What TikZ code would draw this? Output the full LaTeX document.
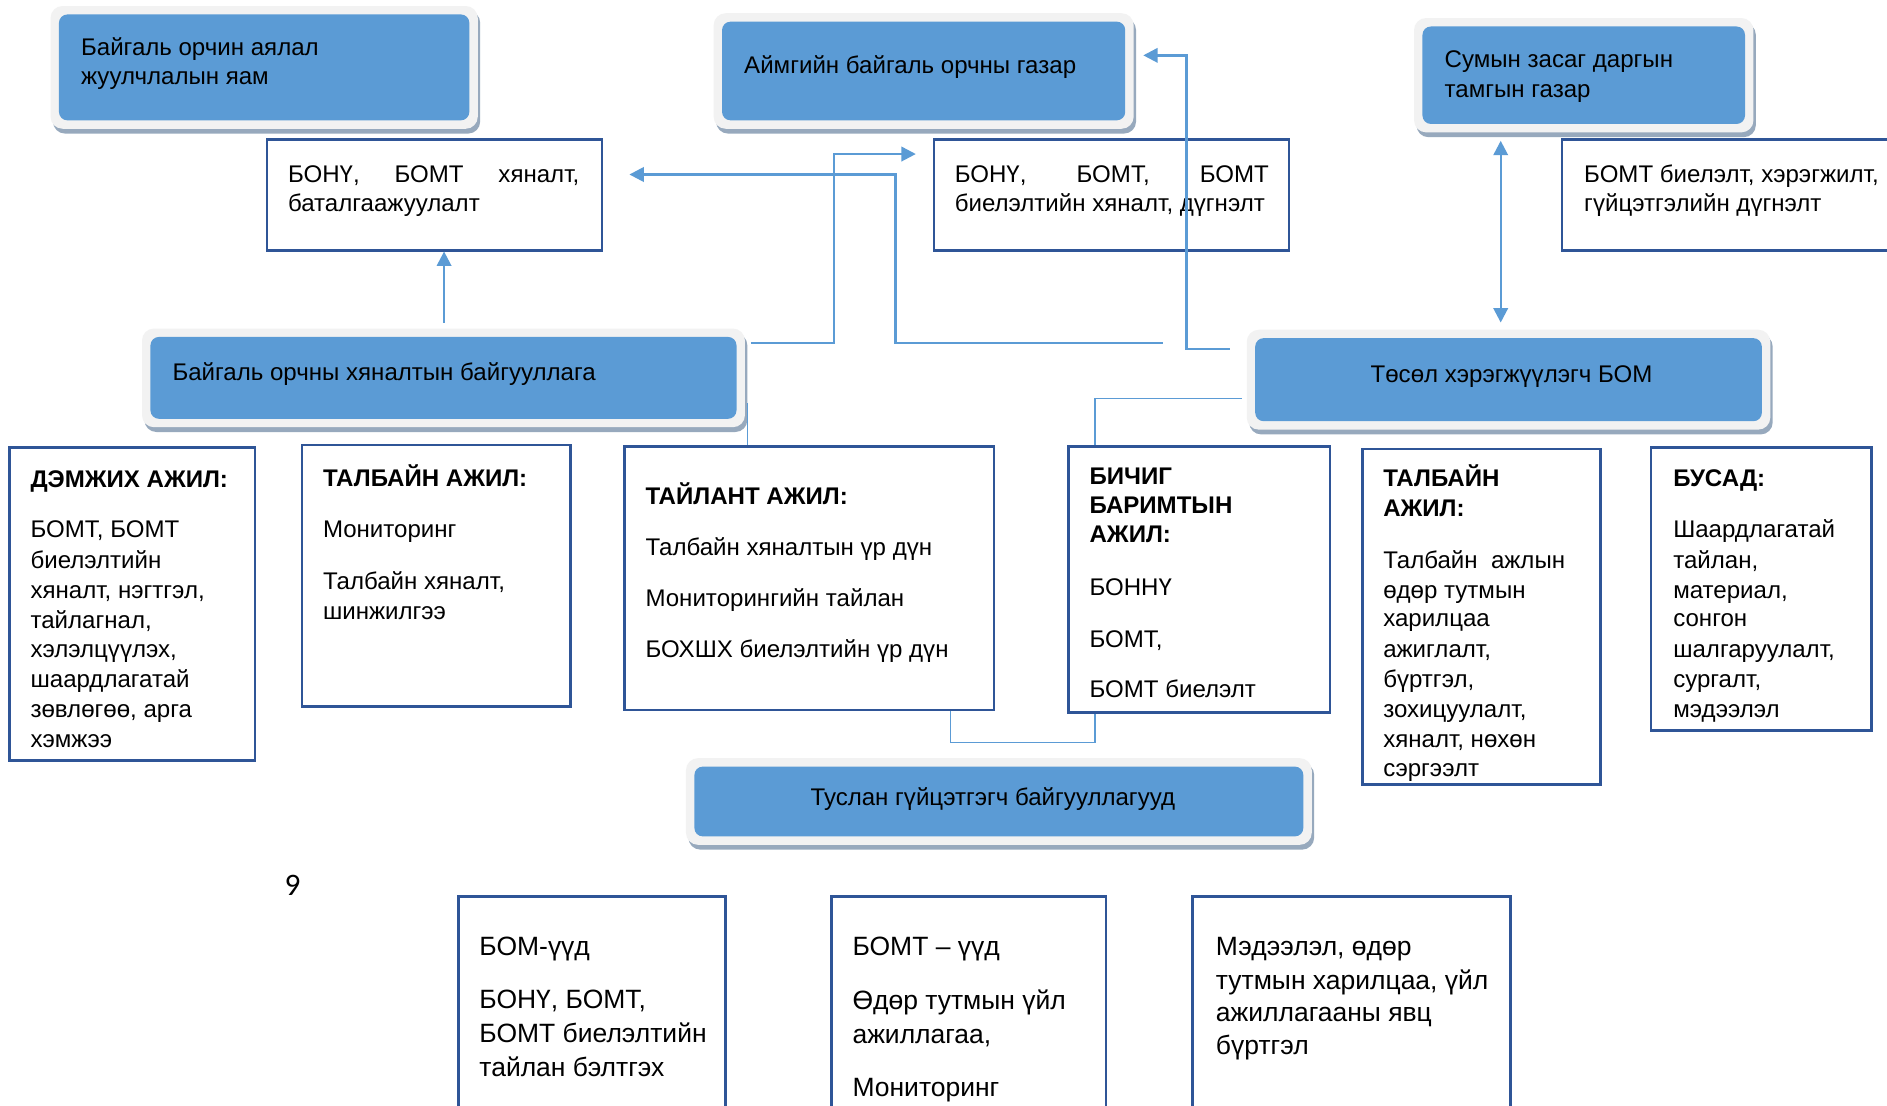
\documentclass[tikz,border=0pt]{standalone}
\usepackage{fontspec}
\setmainfont{Liberation Sans}
\newfontfamily\pagefont{Carlito}
\usetikzlibrary{arrows.meta,fit,calc}
\definecolor{blueA}{HTML}{5B9BD5}
\definecolor{frameC}{HTML}{F2F2F2}
\definecolor{shadowC}{HTML}{97A9BD}
\definecolor{navy}{HTML}{2F5597}
\definecolor{connC}{HTML}{5B9BD5}
\newcommand\bluebox[5]{%
  \fill[shadowC, rounded corners=5pt] (#2-7+2,#3-7+4) rectangle (#4+7+2,#5+7+4);
  \fill[frameC, rounded corners=5pt] (#2-7,#3-7) rectangle (#4+7,#5+7);
  \node[bluenode, fit={(#2,#3) (#4,#5)}] (#1) {};}
\tikzset{
  bluenode/.style={fill=blueA, draw=none, rounded corners=3.5pt, inner sep=0pt},
  wbox/.style={draw=navy, line width=1pt, fill=white, inner sep=0pt},
  txt/.style={anchor=base west, inner sep=0pt, font=\fontsize{10pt}{12pt}\selectfont, yshift=-3.5pt},
  txtc/.style={anchor=base, inner sep=0pt, font=\fontsize{10pt}{12pt}\selectfont, yshift=-3.5pt},
  btxt/.style={anchor=base west, inner sep=0pt, font=\fontsize{11pt}{13pt}\selectfont, yshift=-3.6pt},
  cn/.style={draw=connC, line width=1pt},
  thincn/.style={draw=connC, line width=0.6pt},
  tip/.style={-{Triangle[length=6pt,width=6pt]}},
  dtip/.style={{Triangle[length=6pt,width=6pt]}-{Triangle[length=6pt,width=6pt]}}
}
\begin{document}
\begin{tikzpicture}[x=0.5pt,y=-0.5pt]
\useasboundingbox (0,0) rectangle (1568,919);
\fill[white] (0,0) rectangle (1568,919);

% blue boxes
\bluebox{b1}{49}{12}{390}{100}
\bluebox{b2}{600}{18}{935}{100}
\bluebox{b3}{1182}{22}{1450}{103}
\bluebox{b4}{125}{280}{612}{348}
\bluebox{b5}{1043}{281}{1464}{350}
\bluebox{b6}{577}{637}{1083}{695}

\node[txt, name=t1a] at (67,39) {Байгаль орчин аялал};
\node[txt, name=t1b] at (67,63) {жуулчлалын яам};
\node[txt, name=t2a] at (618,54) {Аймгийн байгаль орчны газар};
\node[txt, name=t3a] at (1200,49) {Сумын засаг даргын};
\node[txt, name=t3b] at (1200,74) {тамгын газар};
\node[txt, name=t4a] at (143,309) {Байгаль орчны хяналтын байгууллага};
\node[txtc, name=t5a] at (1256,311) {Төсөл хэрэгжүүлэгч БОМ};
\node[txtc, name=t6a] at (825,662) {Туслан гүйцэтгэгч байгууллагууд};

% white boxes, upper row
\node[wbox, fit={(222,116) (500,208)}] (A) {};
\node[txt, name=Aa] at (239,145) {\makebox[121pt][s]{БОНҮ, БОМТ хяналт,}};
\node[txt, name=Ab] at (239,169) {баталгаажуулалт};

\node[wbox, fit={(776,116) (1071,208)}] (B) {};
\node[txt, name=Ba] at (793,145) {\makebox[130.5pt][s]{БОНҮ, БОМТ, БОМТ}};
\node[txt, name=Bb] at (793,169) {биелэлтийн хяналт, дүгнэлт};

\draw[navy, line width=1pt] (1574,116) -- (1298,116) -- (1298,208) -- (1574,208);
\node[txt, name=Ca] at (1316,145) {БОМТ биелэлт, хэрэгжилт,};
\node[txt, name=Cb] at (1316,169) {гүйцэтгэлийн дүгнэлт};

% middle row boxes
\node[wbox, fit={(8,372) (212,632)}] (D) {};
\foreach \ly/\lt [count=\i] in {398/{\bfseries ДЭМЖИХ АЖИЛ:}, 440/{БОМТ, БОМТ}, 465/{биелэлтийн}, 490/{хяналт, нэгтгэл,}, 515/{тайлагнал,}, 539/{хэлэлцүүлэх,}, 564/{шаардлагатай}, 589/{зөвлөгөө, арга}, 614/{хэмжээ}}
  \node[txt, name=D\i] at (25,\ly) {\lt};

\node[wbox, fit={(251,370) (474,587)}] (E) {};
\foreach \ly/\lt [count=\i] in {397/{\bfseries ТАЛБАЙН АЖИЛ:}, 440/{Мониторинг}, 483/{Талбайн хяналт,}, 508/{шинжилгээ}}
  \node[txt, name=E\i] at (268,\ly) {\lt};

\node[wbox, fit={(519,371) (826,590)}] (F) {};
\foreach \ly/\lt [count=\i] in {412/{\bfseries ТАЙЛАНТ АЖИЛ:}, 455/{Талбайн хяналтын үр дүн}, 497/{Мониторингийн тайлан}, 539/{БОХШХ биелэлтийн үр дүн}}
  \node[txt, name=F\i] at (536,\ly) {\lt};

\node[wbox, fit={(888,371) (1105,592)}] (G) {};
\foreach \ly/\lt [count=\i] in {396/{\bfseries БИЧИГ}, 420/{\bfseries БАРИМТЫН}, 444/{\bfseries АЖИЛ:}, 488/{БОННҮ}, 531/{БОМТ,}, 573/{БОМТ биелэлт}}
  \node[txt, name=G\i] at (905,\ly) {\lt};

\node[wbox, fit={(1132,373) (1330,652)}] (H) {};
\foreach \ly/\lt [count=\i] in {397/{\bfseries ТАЛБАЙН}, 422/{\bfseries АЖИЛ:}, 465/{Талбайн\ \ ажлын}, 490/{өдөр тутмын}, 514/{харилцаа}, 539/{ажиглалт,}, 564/{бүртгэл,}, 589/{зохицуулалт,}, 614/{хяналт, нөхөн}, 638/{сэргээлт}}
  \node[txt, name=H\i] at (1149,\ly) {\lt};

\node[wbox, fit={(1372,372) (1555,607)}] (I) {};
\foreach \ly/\lt [count=\i] in {397/{\bfseries БУСАД:}, 440/{Шаардлагатай}, 465/{тайлан,}, 490/{материал,}, 514/{сонгон}, 539/{шалгаруулалт,}, 564/{сургалт,}, 589/{мэдээлэл}}
  \node[txt, name=I\i] at (1390,\ly) {\lt};

% bottom row (cut off)
\draw[navy, line width=1pt] (381,925) -- (381,745) -- (603,745) -- (603,925);
\foreach \ly/\lt [count=\i] in {787/{БОМ-үүд}, 831/{БОНҮ, БОМТ,}, 859/{БОМТ биелэлтийн}, 887/{тайлан бэлтгэх}}
  \node[btxt, name=J\i] at (398,\ly) {\lt};
\draw[navy, line width=1pt] (691,925) -- (691,745) -- (919,745) -- (919,925);
\foreach \ly/\lt [count=\i] in {787/{БОМТ – үүд}, 832/{Өдөр тутмын үйл}, 860/{ажиллагаа,}, 904/{Мониторинг}}
  \node[btxt, name=K\i] at (708,\ly) {\lt};
\draw[navy, line width=1pt] (991,925) -- (991,745) -- (1255,745) -- (1255,925);
\foreach \ly/\lt [count=\i] in {787/{Мэдээлэл, өдөр}, 815/{тутмын харилцаа, үйл}, 842/{ажиллагааны явц}, 869/{бүртгэл}}
  \node[btxt, name=L\i] at (1010,\ly) {\lt};

\node[anchor=center, inner sep=0pt, font=\pagefont\fontsize{13pt}{15pt}\selectfont] (pg) at (243,736) {9};

% connectors
\coordinate (c1s) at (369,268);
\draw[cn, tip] (c1s) -- (c1s |- A.south);

\coordinate (c2s) at (624,285);
\coordinate (c2e) at (761,128);
\draw[cn, tip] (c2s) -- (693,285) -- (693,128) -- (c2e);

\coordinate (c3s) at (966,285);
\coordinate (c3e) at (523,145);
\draw[cn, tip] (c3s) -- (744,285) -- (744,145) -- (c3e);

\coordinate (c4s) at (1022,290);
\coordinate (c4e) at (950,46);
\draw[cn, tip] (c4s) -- (986,290) -- (986,46) -- (c4e);

\coordinate (c5a) at (1247,117);
\coordinate (c5b) at (1247,268);
\draw[cn, dtip] (c5a) -- (c5b);

\coordinate (c6s) at (621,335);
\draw[thincn] (c6s) -- (c6s |- F.north);

\coordinate (c7s) at (1032,331);
\coordinate (c7m) at (910,331);
\draw[thincn] (c7s) -- (c7m) -- (c7m |- G.north);

\coordinate (c8a) at (790,617);
\coordinate (c8b) at (910,617);
\draw[thincn] (c8a |- F.south) -- (c8a) -- (c8b) -- (c8b |- G.south);
\end{tikzpicture}
\end{document}
